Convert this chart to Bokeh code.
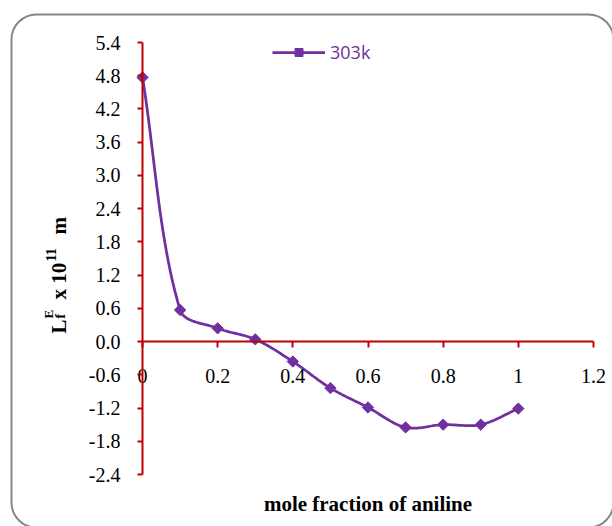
import numpy as np
from bokeh.plotting import figure
from bokeh.models import (Range1d, LinearAxis, FixedTicker, Label, Legend,
                          LegendItem, BoxAnnotation)
from bokeh.embed import file_html
from bokeh.resources import INLINE

# ---------------- data ----------------
mole_fraction = [0.0, 0.1, 0.2, 0.3, 0.4, 0.5, 0.6, 0.7, 0.8, 0.9, 1.0]
lfe_303k = [4.77, 0.57, 0.24, 0.04, -0.36, -0.84, -1.19, -1.55, -1.50, -1.50, -1.21]
series_name = "303k"
x_ticks = [0.0, 0.2, 0.4, 0.6, 0.8, 1.0, 1.2]
x_tick_labels = ["0", "0.2", "0.4", "0.6", "0.8", "1", "1.2"]
y_ticks = [-2.4, -1.8, -1.2, -0.6, 0.0, 0.6, 1.2, 1.8, 2.4, 3.0, 3.6, 4.2, 4.8, 5.4]
y_tick_labels = ["-2.4", "-1.8", "-1.2", "-0.6", "0.0", "0.6", "1.2", "1.8", "2.4",
                 "3.0", "3.6", "4.2", "4.8", "5.4"]
x_title = "mole fraction of aniline"
x_min, x_max = 0.0, 1.2
y_min, y_max = -2.4, 5.4

# ---------------- layout (pixels) ----------------
W, H = 612, 526
PX0, PX1 = 142, 593      # pixel columns of x_min / x_max
PY0, PY1 = 474, 42       # pixel rows of y_min / y_max
PURPLE = "#7030A0"
RED = "#C00000"
SERIF = "Liberation Serif"

kx = (PX1 - PX0) / (x_max - x_min)
ky = (PY0 - PY1) / (y_max - y_min)


def dx(px):
    return x_min + (px - PX0) / kx


def dy(py):
    return y_min + (PY0 - py) / ky


p = figure(width=W, height=H, output_backend="svg", toolbar_location=None,
           x_range=Range1d(dx(0), dx(W)), y_range=Range1d(dy(H), dy(0)),
           x_axis_type=None, y_axis_type=None, min_border=0)
p.outline_line_color = None
p.background_fill_color = "white"
p.border_fill_color = "white"

xaxis = LinearAxis(ticker=FixedTicker(ticks=x_ticks),
                   major_label_overrides=dict(zip(x_ticks, x_tick_labels)),
                   fixed_location=0, bounds=(x_min, x_max))
yaxis = LinearAxis(ticker=FixedTicker(ticks=y_ticks),
                   major_label_overrides=dict(zip(y_ticks, y_tick_labels)),
                   fixed_location=0, bounds=(y_min, y_max))
for ax in (xaxis, yaxis):
    ax.axis_line_color = RED
    ax.axis_line_width = 2
    ax.major_tick_line_color = RED
    ax.major_tick_line_width = 2
    ax.major_tick_in = 0
    ax.minor_tick_in = 0
    ax.minor_tick_out = 0
    ax.major_label_text_font = SERIF
    ax.major_label_text_font_size = "20px"
    ax.major_label_text_color = "black"
xaxis.major_tick_out = 6
xaxis.major_label_standoff = 21
yaxis.major_tick_out = 5
yaxis.major_label_standoff = 17
p.add_layout(xaxis, "below")
p.add_layout(yaxis, "left")


# ---------------- smoothed curve (Excel-like bezier, in pixel space) ----------------
def smooth_path(xs, ys, n=24):
    P = np.column_stack([np.asarray(xs) * kx, np.asarray(ys) * ky])
    out = []
    for i in range(len(P) - 1):
        p0 = P[i - 1] if i > 0 else P[i]
        p1, p2 = P[i], P[i + 1]
        p3 = P[i + 2] if i + 2 < len(P) else P[i + 1]
        d01 = np.hypot(*(p1 - p0))
        d12 = np.hypot(*(p2 - p1))
        d23 = np.hypot(*(p3 - p2))
        f1 = d12 / (d01 + d12) / 3.0 if d01 + d12 > 0 else 0
        f2 = d12 / (d12 + d23) / 3.0 if d12 + d23 > 0 else 0
        c1 = p1 + (p2 - p0) * f1
        c2 = p2 - (p3 - p1) * f2
        t = np.linspace(0, 1, n)[:, None]
        seg = ((1 - t) ** 3) * p1 + 3 * ((1 - t) ** 2) * t * c1 \
            + 3 * (1 - t) * t ** 2 * c2 + t ** 3 * p2
        out.append(seg if i == 0 else seg[1:])
    arr = np.vstack(out)
    return arr[:, 0] / kx, arr[:, 1] / ky


cx, cy = smooth_path(mole_fraction, lfe_303k)
line_r = p.line(cx, cy, line_color=PURPLE, line_width=2.75)
pts_r = p.scatter(mole_fraction, lfe_303k, marker="square", angle=np.pi / 4, size=8,
                  fill_color=PURPLE, line_color=PURPLE)

legend = Legend(items=[LegendItem(label=series_name, renderers=[line_r, pts_r])],
                location=(272, H - 54 - 10), glyph_width=53, glyph_height=20,
                label_height=20, label_standoff=5, padding=0, margin=0,
                border_line_color=None, background_fill_alpha=0,
                label_text_font="Open Sans", label_text_font_size="18px",
                label_text_color=PURPLE)
p.add_layout(legend)

# ---------------- titles ----------------
p.add_layout(Label(x=dx(367.5), y=dy(503), text=x_title,
                   text_align="center", text_baseline="middle", text_font=SERIF,
                   text_font_style="bold", text_font_size="21px", text_color="black"))

ytitle_parts = [
    # text, baseline column (px), start row (px), size
    ("L", 58, 333, "21px"),
    ("f", 60, 318, "14px"),
    ("E", 48, 318, "13px"),
    ("x 10", 58, 299, "21px"),
    ("11", 50, 261, "14px"),
    ("m", 58, 234, "21px"),
]
for txt, bx, by, fs in ytitle_parts:
    p.add_layout(Label(x=dx(bx), y=dy(by), text=txt,
                       angle=np.pi / 2, text_align="left", text_baseline="alphabetic",
                       text_font=SERIF, text_font_style="bold", text_font_size=fs,
                       text_color="black"))

# rounded chart-area border
p.add_layout(BoxAnnotation(left=dx(11), right=dx(613), top=dy(14), bottom=dy(527),
                           fill_alpha=0, line_color="#868686", line_alpha=1.0,
                           line_width=2, border_radius=25))

open("out.html", "w").write(file_html(p, INLINE))
